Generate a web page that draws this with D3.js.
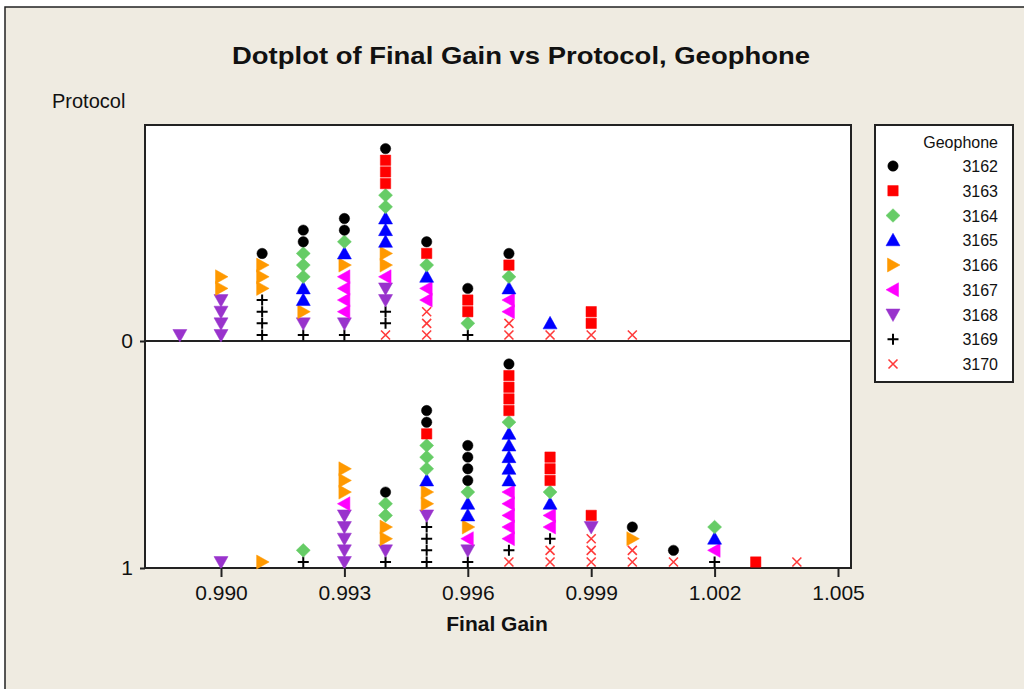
<!DOCTYPE html>
<html>
<head>
<meta charset="utf-8">
<script src="https://cdn.jsdelivr.net/npm/d3@7"></script>
<style>
  body { margin: 0; background: #ffffff; }
  text { font-family: "Liberation Sans", Arial, sans-serif; fill: #111; }
</style>
</head>
<body>
<script>
// Geophone groups, legend order (stacked bottom-up in reverse order)
var geophones = ["3162", "3163", "3164", "3165", "3166", "3167", "3168", "3169", "3170"];
var geoColors = ["#000000", "#FF0000", "#66CC66", "#0000FF", "#FF9900", "#FF00FF", "#9933CC", "#000000", "#FF3B3B"];
var geoShapes = ["circle", "square", "diamond", "triUp", "triRight", "triLeft", "triDown", "plus", "cross"];

var protocols = [0, 1];
var gainValues = [0.989, 0.990, 0.991, 0.992, 0.993, 0.994, 0.995, 0.996,
                  0.997, 0.998, 0.999, 1.000, 1.001, 1.002, 1.003, 1.004];

// counts per gain value, columns = 3162..3170
var countsProtocol0 = [
    [0,0,0,0,0,0,1,0,0],
    [0,0,0,0,2,0,4,0,0],
    [1,0,0,0,3,0,0,4,0],
    [2,0,3,2,1,0,1,1,0],
    [2,0,1,1,1,4,1,1,0],
    [1,3,2,3,2,1,2,2,1],
    [1,1,1,1,0,2,0,0,3],
    [1,2,1,0,0,0,0,1,0],
    [1,1,1,1,0,2,0,0,2],
    [0,0,0,1,0,0,0,0,1],
    [0,2,0,0,0,0,0,0,1],
    [0,0,0,0,0,0,0,0,1],
    [0,0,0,0,0,0,0,0,0],
    [0,0,0,0,0,0,0,0,0],
    [0,0,0,0,0,0,0,0,0],
    [0,0,0,0,0,0,0,0,0]
];
var countsProtocol1 = [
    [0,0,0,0,0,0,0,0,0],
    [0,0,0,0,0,0,1,0,0],
    [0,0,0,0,1,0,0,0,0],
    [0,0,1,0,0,0,0,1,0],
    [0,0,0,0,3,1,5,0,0],
    [1,0,2,0,2,0,1,1,0],
    [2,1,3,1,2,0,1,4,0],
    [4,0,1,2,1,1,1,1,0],
    [1,4,1,5,0,5,0,1,1],
    [0,3,1,1,0,2,0,1,2],
    [0,1,0,0,0,0,1,0,3],
    [1,0,0,0,1,0,0,0,2],
    [1,0,0,0,0,0,0,0,1],
    [0,0,1,1,0,1,0,1,0],
    [0,1,0,0,0,0,0,0,0],
    [0,0,0,0,0,0,0,0,1]
];
var xTicks = [0.990, 0.993, 0.996, 0.999, 1.002, 1.005];

var W = 1024, H = 689;
var plot = {left: 145, right: 851, top: 125, bottom: 568};

var svg = d3.select("body").append("svg")
    .attr("width", W).attr("height", H);

// background frame
svg.append("rect").attr("x", 5).attr("y", 7).attr("width", W + 10).attr("height", H + 10)
    .style("fill", "#EFEBE1").style("stroke", "#222").style("stroke-width", 1.5);

// scales
var x = d3.scaleLinear().domain([0.990, 1.005]).range([221, 838]);
var yProt = d3.scaleLinear().domain([0, 1]).range([341, 568]);
var yStack = d3.scaleLinear().domain([0, 1]).range([-6, -17.65]);

// plot area
svg.append("rect")
    .attr("x", plot.left).attr("y", plot.top)
    .attr("width", plot.right - plot.left).attr("height", plot.bottom - plot.top)
    .style("fill", "#fff").style("stroke", "#222").style("stroke-width", 2);

svg.append("line")
    .attr("x1", plot.left).attr("x2", plot.right)
    .attr("y1", yProt(0)).attr("y2", yProt(0))
    .style("stroke", "#222").style("stroke-width", 2);

// build stacked points
var points = [];
[countsProtocol0, countsProtocol1].forEach(function(counts, p) {
    counts.forEach(function(row, i) {
        var k = 0;
        for (var g = geophones.length - 1; g >= 0; g--) {
            for (var c = 0; c < row[g]; c++) {
                points.push({protocol: protocols[p], gain: gainValues[i], geo: g, k: k});
                k++;
            }
        }
    });
});

function shapePath(shape) {
    switch (shape) {
        case "circle": return "M-5.2,0A5.2,5.2 0 1,1 5.2,0A5.2,5.2 0 1,1 -5.2,0Z";
        case "square": return "M-5.2,-5.2H5.2V5.2H-5.2Z";
        case "diamond": return "M0,-6.8L7,0L0,6.8L-7,0Z";
        case "triUp": return "M0,-7L7,5.5L-7,5.5Z";
        case "triDown": return "M0,7L7,-5.5L-7,-5.5Z";
        case "triRight": return "M7,0L-5.5,7L-5.5,-7Z";
        case "triLeft": return "M-7,0L5.5,7L5.5,-7Z";
        case "plus": return "M-5.5,0H5.5M0,-5.5V5.5";
        case "cross": return "M-4.5,-4.5L4.5,4.5M-4.5,4.5L4.5,-4.5";
    }
}

function drawMarker(sel, g) {
    var shape = geoShapes[g];
    var line = shape === "plus" || shape === "cross";
    sel.attr("d", shapePath(shape))
        .style("fill", line ? "none" : geoColors[g])
        .style("stroke", geoColors[g])
        .style("stroke-width", line ? (shape === "plus" ? 2 : 1.6) : 0.5);
}

svg.append("g").selectAll("path")
    .data(points)
    .enter()
    .append("path")
        .attr("transform", function(d) {
            return "translate(" + x(d.gain) + "," + (yProt(d.protocol) + yStack(d.k)) + ")";
        })
        .each(function(d) { drawMarker(d3.select(this), d.geo); });

// axes
var xAxis = d3.axisBottom(x).tickValues(xTicks).tickFormat(d3.format(".3f"))
    .tickSize(9).tickPadding(8);
var gx = svg.append("g").attr("transform", "translate(0," + plot.bottom + ")").call(xAxis);
gx.select(".domain").remove();
gx.selectAll("line").style("stroke", "#222").style("stroke-width", 2);
gx.selectAll("text").style("font-size", "21px").style("font-family", "Liberation Sans, Arial, sans-serif").style("fill", "#111");

var yAxis = d3.axisLeft(yProt).tickValues([0, 1]).tickFormat(d3.format("d"))
    .tickSize(5).tickPadding(7);
var gy = svg.append("g").attr("transform", "translate(" + plot.left + ",0)").call(yAxis);
gy.select(".domain").remove();
gy.selectAll("line").style("stroke", "#222").style("stroke-width", 2);
gy.selectAll("text").style("font-size", "21px").style("font-family", "Liberation Sans, Arial, sans-serif").style("fill", "#111");

// titles
svg.append("text")
    .attr("x", 521).attr("y", 64)
    .style("text-anchor", "middle").style("font-size", "24px").style("font-weight", "bold")
    .attr("textLength", 578).attr("lengthAdjust", "spacingAndGlyphs")
    .text("Dotplot of Final Gain vs Protocol, Geophone");

svg.append("text")
    .attr("x", 52).attr("y", 108)
    .style("font-size", "20px")
    .text("Protocol");

svg.append("text")
    .attr("x", 497).attr("y", 631)
    .style("text-anchor", "middle").style("font-size", "21px").style("font-weight", "bold")
    .text("Final Gain");

// legend
var legend = svg.append("g");
legend.append("rect")
    .attr("x", 875).attr("y", 125).attr("width", 138).attr("height", 257)
    .style("fill", "#fff").style("stroke", "#222").style("stroke-width", 2);
legend.append("text")
    .attr("x", 998).attr("y", 148)
    .style("text-anchor", "end").style("font-size", "16px")
    .text("Geophone");

var legendY = d3.scaleLinear().domain([0, 8]).range([166, 364]);
var items = legend.selectAll("g.item")
    .data(geophones)
    .enter()
    .append("g").attr("class", "item")
    .attr("transform", function(d, i) { return "translate(0," + legendY(i) + ")"; });
items.append("path")
    .attr("transform", "translate(893,0)")
    .each(function(d, i) { drawMarker(d3.select(this), i); });
items.append("text")
    .attr("x", 998).attr("y", 6)
    .style("text-anchor", "end").style("font-size", "16px")
    .text(function(d) { return d; });
</script>
</body>
</html>
